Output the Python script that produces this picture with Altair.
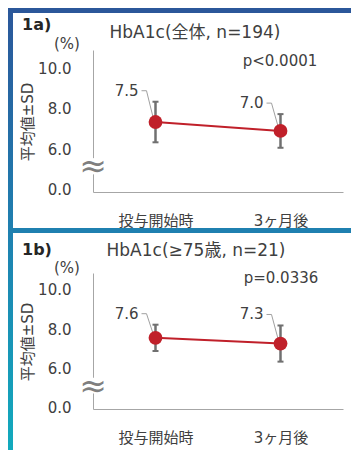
import altair as alt
import pandas as pd

# ---------------- data ----------------
categories = ["投与開始時", "3ヶ月後"]
tags = ["1a)", "1b)"]
titles = ["HbA1c(全体, n=194)", "HbA1c(≥75歳, n=21)"]
p_values = ["p<0.0001", "p=0.0336"]
means_a = [7.35, 6.91]
sd_a = [1.00, 0.83]
labels_a = ["7.5", "7.0"]
means_b = [7.55, 7.26]
sd_b = [0.67, 0.92]
labels_b = ["7.6", "7.3"]
y_tick_values = [4, 6, 8, 10]
y_tick_labels = ["0.0", "6.0", "8.0", "10.0"]
break_value = [5.12, 5.07]
unit_label = "(%)"
y_title = "平均値±SD"

# ---------------- style ----------------
FONT = "DejaVu Sans, Noto Sans CJK JP"
RED = "#c0202a"
BAR = "#707070"
AXIS = "#a6a6a6"
TEXT = "#404040"
LEAD = "#a0a0a0"

label_expr = ""
for v, l in zip(y_tick_values, y_tick_labels):
    label_expr += f"datum.value == {v} ? '{l}' : "
label_expr += "''"

yaxis = alt.Axis(values=y_tick_values, labelExpr=label_expr, ticks=False, grid=False,
                 domainColor=AXIS, domainWidth=1, labelFont=FONT, labelFontSize=15,
                 labelColor=TEXT, labelPadding=22, title=None)
xaxis = alt.Axis(ticks=False, grid=False, domainColor=AXIS, domainWidth=1, labelFont=FONT,
                 labelFontSize=15, labelColor=TEXT, labelPadding=21, title=None, labelAngle=0)

one = alt.Data(values=[{"k": 1}])


def txt(text, x, y, size=15, weight="normal", align="center", angle=0, color=TEXT):
    kw = dict(text=text, font=FONT, fontSize=size, fontWeight=weight, align=align,
              baseline="middle", color=color)
    if angle:
        kw["angle"] = angle
    return alt.Chart(one).mark_text(**kw).encode(x=alt.value(x), y=alt.value(y))


def panel(i, means, sds, labels, height, domain, offs, frame=False):
    df = pd.DataFrame({
        "cat": categories,
        "mean": means,
        "hi": [m + s for m, s in zip(means, sds)],
        "lo": [m - s for m, s in zip(means, sds)],
        "label": labels,
    })
    yscale = alt.Scale(domain=domain, nice=False, zero=False)
    X = alt.X("cat:N", sort=categories, scale=alt.Scale(type="point", padding=0.5), axis=xaxis)

    def Y(f):
        return alt.Y(f, type="quantitative", scale=yscale, axis=yaxis)

    base = alt.Chart(df)
    layers = []
    if frame:
        grad = alt.Gradient(gradient="linear", x1=0, x2=0, y1=0, y2=1,
                            stops=[alt.GradientStop(color="#2b579a", offset=0),
                                   alt.GradientStop(color="#1f80b0", offset=0.5),
                                   alt.GradientStop(color="#12aabd", offset=1)])
        layers.append(alt.Chart(one).mark_rect(color="#2b579a").encode(
            x=alt.value(-85), x2=alt.value(258), y=alt.value(-42), y2=alt.value(-37)))
        layers.append(alt.Chart(one).mark_rect(color="#1f80b0").encode(
            x=alt.value(-85), x2=alt.value(258), y=alt.value(178), y2=alt.value(183)))
        layers.append(alt.Chart(one).mark_rect(color=grad).encode(
            x=alt.value(-85), x2=alt.value(-80), y=alt.value(-42), y2=alt.value(400)))

    layers += [
        base.mark_line(color=RED, strokeWidth=2).encode(x=X, y=Y("mean")),
        base.mark_rule(color=BAR, strokeWidth=2.5).encode(x=X, y=Y("lo"), y2=alt.Y2("hi")),
        base.mark_rule(color=BAR, strokeWidth=2, xOffset=-3, x2Offset=3).encode(
            x=X, x2=alt.X2("cat"), y=Y("hi")),
        base.mark_rule(color=BAR, strokeWidth=2, xOffset=-3, x2Offset=3).encode(
            x=X, x2=alt.X2("cat"), y=Y("lo")),
        base.mark_rule(color=LEAD, strokeWidth=1, xOffset=-14, x2Offset=-9, yOffset=-11).encode(
            x=X, x2=alt.X2("cat"), y=Y("hi")),
        base.mark_rule(color=LEAD, strokeWidth=1, xOffset=-9, x2Offset=-2, yOffset=-11,
                       y2Offset=-3).encode(x=X, x2=alt.X2("cat"), y=Y("hi"), y2=alt.Y2("mean")),
        base.mark_circle(color=RED, size=190, opacity=1).encode(x=X, y=Y("mean")),
        base.mark_text(font=FONT, fontSize=15, color=TEXT, align="right", baseline="middle",
                       dx=-17, dy=-11).encode(x=X, y=Y("hi"), text="label:N"),
        alt.Chart(one).mark_rect(color="white").encode(
            x=alt.value(-5), x2=alt.value(5),
            y=alt.Y(datum=break_value[i] + 0.45, scale=yscale, axis=yaxis),
            y2=alt.datum(break_value[i] - 0.35)),
        alt.Chart(one).mark_text(text="≈", font="DejaVu Sans", fontSize=33, color="#7f7f7f",
                                 baseline="middle").encode(
            x=alt.value(0), y=alt.Y(datum=break_value[i], scale=yscale, axis=yaxis)),
        txt(tags[i], -71, offs["tag"], size=16, weight="bold", align="left", color="#262626"),
        txt(titles[i], offs["tx"], offs["title"], size=17),
        txt(unit_label, -26, offs["unit"]),
        txt(p_values[i], offs["px"], offs["p"]),
        txt(y_title, -65, offs["yt"], angle=270),
    ]
    return alt.layer(*layers).properties(width=250, height=height)


p1 = panel(0, means_a, sd_a, labels_a, 142, [3.9, 10.9],
           dict(tag=-25, title=-17, tx=102, unit=-6, px=187, p=11, yt=72), frame=True)
p2 = panel(1, means_b, sd_b, labels_b, 136, [3.93, 10.85],
           dict(tag=-23, title=-22, tx=103, unit=-5, px=188, p=5, yt=69))

chart = alt.vconcat(p1, p2, spacing=81, bounds="flush",
                    padding={"left": 8, "top": 8, "right": 0, "bottom": 0}
                    ).configure_view(stroke=None)

chart.save("out.html", embed_options={"renderer": "svg", "actions": False})
